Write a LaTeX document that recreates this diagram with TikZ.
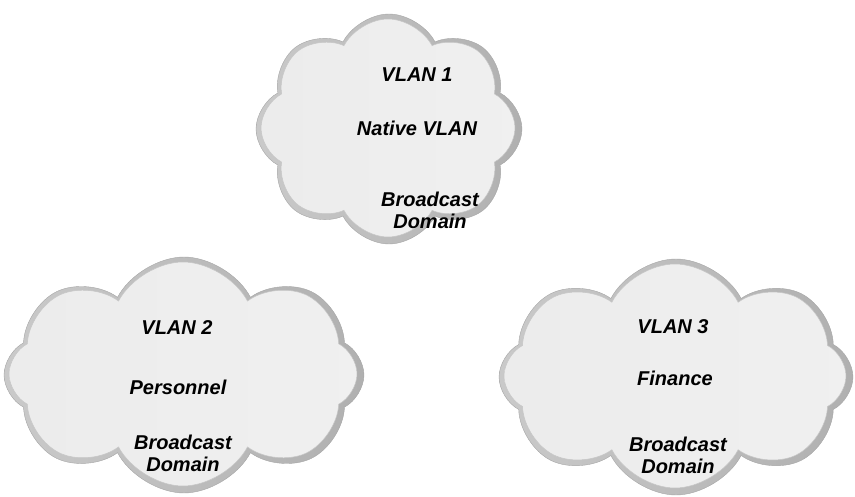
\documentclass[tikz,border=0pt]{standalone}
\usepackage{fontspec}
\setmainfont{Liberation Sans}
\usetikzlibrary{shapes.symbols}

\begin{document}
\begin{tikzpicture}[x=1pt,y=-1pt,
      vlan/.style={cloud,cloud puffs=8,cloud puff arc=125,cloud ignores aspect,
                   inner sep=0pt,draw=gray!45,line width=.5pt,
                   left color=gray!15,middle color=white,right color=gray!12},
      rim/.style={cloud,cloud puffs=8,cloud puff arc=125,cloud ignores aspect,
                  inner sep=0pt,draw=gray!70,line width=.4pt,
                  left color=gray!42,right color=gray!62},
      label/.style={font=\fontsize{20}{22}\selectfont\bfseries\itshape,align=center}]
    \useasboundingbox (0,0) rectangle (855,497);
    % VLAN 1
    \node[rim,minimum width=266pt,minimum height=230pt] (rim1) at (389,129) {};
    \node[vlan,minimum width=254pt,minimum height=218pt] (cloud1) at (388,128) {};
    \node[label] (id1) at (417,75) {VLAN 1};
    \node[label] (name1) at (417,128) {Native VLAN};
    \node[label] (bd1) at (430,210) {Broadcast\\Domain};
    % VLAN 2
    \node[rim,minimum width=360pt,minimum height=236pt] (rim2) at (184,375) {};
    \node[vlan,minimum width=348pt,minimum height=224pt] (cloud2) at (183,374) {};
    \node[label] (id2) at (177,328) {VLAN 2};
    \node[label] (name2) at (178,387) {Personnel};
    \node[label] (bd2) at (183,453) {Broadcast\\Domain};
    % VLAN 3
    \node[rim,minimum width=354pt,minimum height=236pt] (rim3) at (676,377) {};
    \node[vlan,minimum width=342pt,minimum height=224pt] (cloud3) at (675,376) {};
    \node[label] (id3) at (673,327) {VLAN 3};
    \node[label] (name3) at (675,378) {Finance};
    \node[label] (bd3) at (678,455) {Broadcast\\Domain};
\end{tikzpicture}
\end{document}
